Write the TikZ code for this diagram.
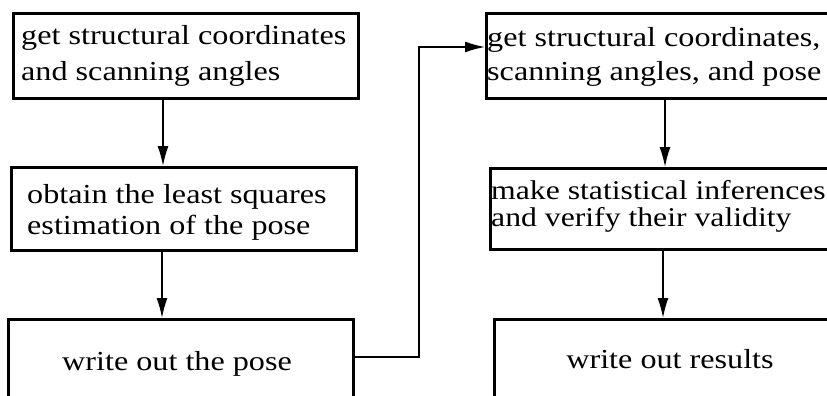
\documentclass[tikz,border=0pt]{standalone}
\usepackage{fontspec}
\setmainfont[FakeStretch=1.17]{Liberation Serif}
\usetikzlibrary{arrows.meta}
\begin{document}
\begin{tikzpicture}[x=1pt,y=-1pt,
  box/.style={draw, line width=2.8pt, inner sep=0pt, anchor=north west},
  bigbox/.style={box, line width=3.2pt},
  txt/.style={inner sep=0pt, align=left},
  arr/.style={line width=1.6pt, -{Latex[length=20pt,width=11pt]}}]
\useasboundingbox (0,0) rectangle (827,396);
\clip (0,0) rectangle (827,396);
% boxes
\node[box, minimum width=345pt, minimum height=85pt] (A) at (12,12) {};
\node[box, minimum width=380pt, minimum height=85pt] (B) at (485,12) {};
\node[box, minimum width=345pt, minimum height=83pt] (C) at (10,166) {};
\node[box, minimum width=380pt, minimum height=81pt] (D) at (489,167) {};
\node[bigbox, minimum width=345pt, minimum height=110pt] (E) at (7,318) {};
\node[bigbox, minimum width=380pt, minimum height=110pt] (F) at (493,318) {};
% texts (base anchor = baseline of the last line)
\node[txt, font=\fontsize{27.5}{36}\selectfont, anchor=base west] (At) at (21,81) {get structural coordinates\\and scanning angles};
\node[txt, font=\fontsize{27.5}{34}\selectfont, anchor=base west] (Bt) at (487,81) {get structural coordinates,\\scanning angles, and pose};
\node[txt, font=\fontsize{27.5}{31}\selectfont, anchor=base west] (Ct) at (27,234) {obtain the least squares\\estimation of the pose};
\node[txt, font=\fontsize{27.1}{27}\selectfont, anchor=base west] (Dt) at (491,226) {make statistical inferences\\and verify their validity};
\node[txt, font=\fontsize{27.5}{33}\selectfont, anchor=base] (Et) at (177,370) {write out the pose};
\node[txt, font=\fontsize{27.5}{33}\selectfont, anchor=base] (Ft) at (670,368) {write out results};
% connectors
\coordinate (x1) at (163,0);
\coordinate (x2) at (665,0);
\coordinate (x3) at (162,0);
\coordinate (x4) at (663,0);
\coordinate (ly) at (0,357);
\coordinate (lx) at (419,0);
\coordinate (ty) at (0,47);
\draw[arr] (A.south -| x1) -- (C.north -| x1);
\draw[arr] (B.south -| x2) -- (D.north -| x2);
\draw[arr] (C.south -| x3) -- (E.north -| x3);
\draw[arr] (D.south -| x4) -- (F.north -| x4);
\draw[arr] (E.east |- ly) -| (lx |- ty) -- (B.west |- ty);
\end{tikzpicture}
\end{document}
